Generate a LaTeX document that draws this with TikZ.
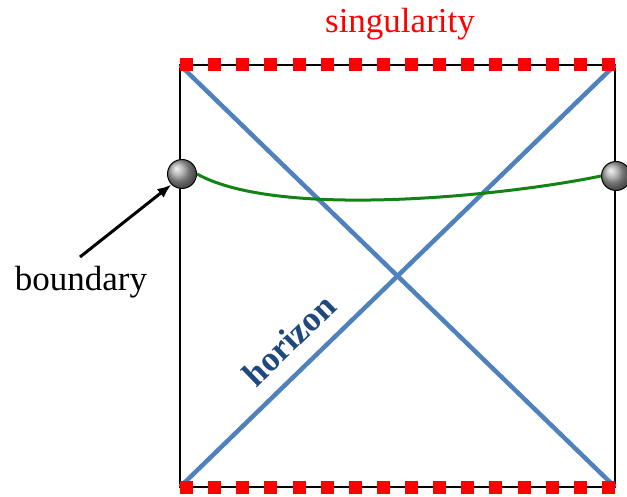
\documentclass[tikz,border=0pt]{standalone}
\usepackage{fontspec}
\setmainfont{Liberation Serif}
\usetikzlibrary{arrows.meta,positioning,shapes.geometric,calc}
\definecolor{horizonblue}{RGB}{79,129,189}
\definecolor{horizontext}{RGB}{31,73,125}
\definecolor{singred}{RGB}{255,0,0}
\definecolor{curvegreen}{RGB}{20,130,20}
\tikzset{
    edgeline/.style={draw=black, line width=1.5pt},
    singline/.style={draw=singred, line width=13pt, dash pattern=on 13pt off 15.13pt},
    horizonline/.style={draw=horizonblue, line width=4.5pt},
    bdryball/.style={circle, draw=black, line width=1pt, minimum size=29pt,
        inner sep=0pt, ball color=gray!70},
    bdrylabel/.style={font=\rmfamily\fontsize{35}{40}\selectfont},
    bdryarrow/.style={-{Latex[length=14pt,width=11pt]}, line width=3pt}
}

\begin{document}
\begin{tikzpicture}[x=1pt, y=-1pt]
\useasboundingbox (0,0) rectangle (627,497);
\coordinate (tl) at (180,65);
\coordinate (tr) at (615,65);
\coordinate (bl) at (180,487);
\coordinate (br) at (615,487);
% square and horizons
\draw[edgeline] (tl) -- (tr) -- (br) -- (bl) -- cycle;
\draw[horizonline] (tl) -- (br);
\draw[horizonline] (bl) -- (tr);
\draw[singline] (tl) -- (tr);
\draw[singline] (bl) -- (br);
% boundary curve
\node[bdryball] (lball) at (182,174) {};
\node[bdryball] (rball) at (616,176) {};
\draw[curvegreen, line width=3pt] (lball.east) .. controls (280,220) and (510,195) .. (rball.west);
% labels
\node[bdrylabel, text=singred] (sing) at (400,24) {singularity};
\node[bdrylabel] (bdry) at (81,282) {boundary};
\node[bdrylabel, text=horizontext, font=\rmfamily\fontsize{35}{40}\selectfont\bfseries, rotate=44] (hor) at (289,340) {horizon};
\coordinate (atail) at (80,257);
\draw[bdryarrow] (atail) -- (lball.south west);
\end{tikzpicture}
\end{document}
